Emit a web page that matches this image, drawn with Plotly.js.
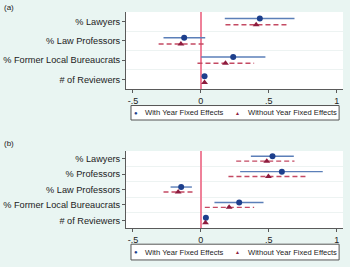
<!DOCTYPE html>
<html>
<head>
<meta charset="utf-8">
<script src="https://cdn.plot.ly/plotly-3.0.1.min.js"></script>
<style>
  html, body { margin: 0; padding: 0; background: #e9f5f2; }
  #chart { width: 350px; height: 267px; }
</style>
</head>
<body>
<div id="chart"></div>
<script>
// Panel (a): four covariates
const catsA = ['% Lawyers', '% Law Professors', '% Former Local Bureaucrats', '# of Reviewers'];
const withA = [0.434, -0.123, 0.238, 0.027];
const withALo = [0.176, -0.275, 0.002, 0.022];
const withAHi = [0.689, 0.032, 0.475, 0.032];
const withoutA = [0.407, -0.147, 0.181, 0.027];
const withoutALo = [0.181, -0.311, -0.025, 0.022];
const withoutAHi = [0.640, 0.029, 0.392, 0.032];

// Panel (b): five covariates
const catsB = ['% Lawyers', '% Professors', '% Law Professors', '% Former Local Bureaucrats', '# of Reviewers'];
const withB = [0.527, 0.596, -0.145, 0.282, 0.037];
const withBLo = [0.368, 0.289, -0.223, 0.100, 0.032];
const withBHi = [0.684, 0.897, -0.066, 0.461, 0.042];
const withoutB = [0.485, 0.497, -0.167, 0.208, 0.034];
const withoutBLo = [0.260, 0.203, -0.275, 0.029, 0.029];
const withoutBHi = [0.689, 0.787, -0.054, 0.392, 0.039];

const xTickVals = [-0.5, 0, 0.5, 1];
const xTickText = ['-.5', '0', '.5', '1'];
const seriesNames = ['With Year Fixed Effects', 'Without Year Fixed Effects'];

const BLUE_LINE = '#5b7fb8';
const BLUE_MARK = '#1d3f8c';
const RED_LINE = '#c44a63';
const RED_MARK = '#8e1c3e';
const OFFSET = 0.16;

function ciTrace(lo, hi, shift, color, dash, xa, ya) {
  const x = [], y = [];
  lo.forEach((v, i) => { x.push(v, hi[i], null); y.push(i + shift, i + shift, null); });
  return { x, y, xaxis: xa, yaxis: ya, type: 'scatter', mode: 'lines', showlegend: false,
           hoverinfo: 'skip', line: { color, width: 1.4, dash } };
}
function ptTrace(vals, shift, color, symbol, xa, ya, name) {
  return { x: vals, y: vals.map((_, i) => i + shift), xaxis: xa, yaxis: ya, type: 'scatter',
           mode: 'markers', name, showlegend: false,
           marker: { color, symbol, size: symbol === 'circle' ? 6 : 6 } };
}

const data = [
  ciTrace(withALo, withAHi, -OFFSET, BLUE_LINE, 'solid', 'x', 'y'),
  ciTrace(withoutALo, withoutAHi, OFFSET, RED_LINE, '5px,3px', 'x', 'y'),
  ptTrace(withA, -OFFSET, BLUE_MARK, 'circle', 'x', 'y', seriesNames[0]),
  ptTrace(withoutA, OFFSET, RED_MARK, 'triangle-up', 'x', 'y', seriesNames[1]),
  ciTrace(withBLo, withBHi, -OFFSET, BLUE_LINE, 'solid', 'x2', 'y2'),
  ciTrace(withoutBLo, withoutBHi, OFFSET, RED_LINE, '5px,3px', 'x2', 'y2'),
  ptTrace(withB, -OFFSET, BLUE_MARK, 'circle', 'x2', 'y2', seriesNames[0]),
  ptTrace(withoutB, OFFSET, RED_MARK, 'triangle-up', 'x2', 'y2', seriesNames[1])
];

const FONT = 'Liberation Sans, Arial, sans-serif';

function xAxis(anchor) {
  return {
    anchor, range: [-0.551, 1.046], tickvals: xTickVals, ticktext: xTickText,
    showgrid: false, zeroline: true, zerolinecolor: '#ef8199', zerolinewidth: 2,
    showline: true, linecolor: '#5a5a5a', linewidth: 1, ticks: 'outside', ticklen: 3,
    tickcolor: '#5a5a5a', tickfont: { family: FONT, size: 9, color: '#222' }, fixedrange: true
  };
}
function yAxis(anchor, cats, domain) {
  const n = cats.length;
  const mids = [];
  for (let i = 0; i < n - 1; i++) mids.push(i + 0.5);
  return {
    anchor, domain, range: [n - 0.5, -0.5], tickvals: cats.map((_, i) => i), ticktext: cats,
    showgrid: false, zeroline: false, showline: true, linecolor: '#5a5a5a', linewidth: 1,
    ticks: 'outside', ticklen: 3, tickcolor: '#5a5a5a',
    tickfont: { family: FONT, size: 9.2, color: '#222' },
    minor: { tickvals: mids, showgrid: true, gridcolor: '#edf3f2', gridwidth: 1, ticks: '' },
    fixedrange: true
  };
}

// Hand-built legend box for each panel (marker glyph + label)
function legendBits(yTop, yBot) {
  const yc = (yTop + yBot) / 2;
  const shapes = [{ type: 'rect', xref: 'paper', yref: 'paper', x0: 0.023, x1: 0.982, y0: yBot, y1: yTop,
                    line: { color: '#555', width: 1 }, fillcolor: '#ffffff', layer: 'above' }];
  const ann = [
    { text: '●', x: 0.044, xanchor: 'center', color: BLUE_MARK, size: 6 },
    { text: seriesNames[0], x: 0.080, xanchor: 'left', color: '#222', size: 7.6 },
    { text: '▲', x: 0.512, xanchor: 'center', color: RED_MARK, size: 5 },
    { text: seriesNames[1], x: 0.552, xanchor: 'left', color: '#222', size: 7.6 }
  ].map(a => ({ xref: 'paper', yref: 'paper', x: a.x, y: yc, xanchor: a.xanchor, yanchor: 'middle',
                text: a.text, showarrow: false, font: { family: FONT, size: a.size, color: a.color } }));
  return { shapes, ann };
}
const legA = legendBits(0.567, 0.500);
const legB = legendBits(-0.075, -0.148);

const layout = {
  width: 350, height: 267,
  margin: { l: 126, r: 7, t: 12, b: 39 },
  paper_bgcolor: '#e9f5f2', plot_bgcolor: '#ffffff',
  showlegend: false,
  xaxis: xAxis('y'), yaxis: yAxis('x', catsA, [0.6435, 1]),
  xaxis2: xAxis('y2'), yaxis2: yAxis('x2', catsB, [0, 0.3565]),
  shapes: [...legA.shapes, ...legB.shapes],
  annotations: [
    { xref: 'paper', yref: 'paper', x: -0.57, y: 1.019, xanchor: 'left', yanchor: 'middle', text: '(a)',
      showarrow: false, font: { family: FONT, size: 8, color: '#222' } },
    { xref: 'paper', yref: 'paper', x: -0.57, y: 0.389, xanchor: 'left', yanchor: 'middle', text: '(b)',
      showarrow: false, font: { family: FONT, size: 8, color: '#222' } },
    ...legA.ann, ...legB.ann
  ]
};

Plotly.newPlot('chart', data, layout, { staticPlot: true, displayModeBar: false });
</script>
</body>
</html>
